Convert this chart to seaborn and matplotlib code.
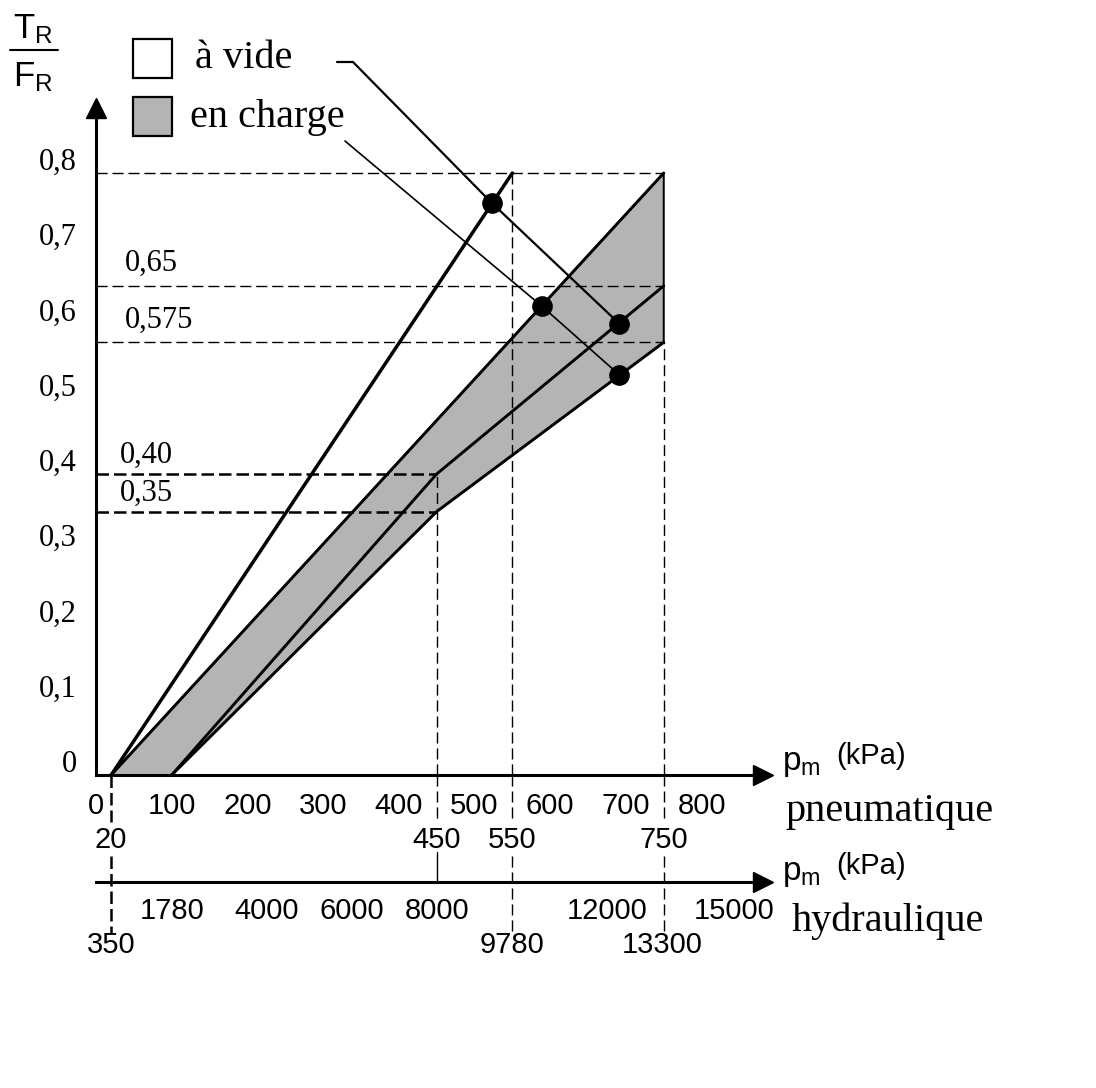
import matplotlib
matplotlib.use('Agg')
import matplotlib.pyplot as plt
import matplotlib.transforms as mtransforms
from matplotlib.patches import Rectangle
from matplotlib.lines import Line2D
import seaborn as sns

sns.set_style('white')
plt.rcParams['font.family'] = ['Liberation Sans', 'DejaVu Sans']
plt.rcParams['text.color'] = 'black'
SERIF = ['Liberation Serif', 'DejaVu Serif']

p_vide = [20, 550]              # droite "a vide"
tr_vide = [0.0, 0.8]
p_haut = [20, 750]              # limite haute de la zone "en charge"
tr_haut = [0.0, 0.8]
p_milieu = [100, 450, 750]      # droite mediane
tr_milieu = [0.0, 0.40, 0.65]
p_bas = [100, 450, 750]         # limite basse
tr_bas = [0.0, 0.35, 0.575]

p_points = [523, 589, 691, 691]
tr_points = [0.76, 0.623, 0.60, 0.532]

ref_tr_hautes = [0.8, 0.65, 0.575]     # pointilles jusqu'a 750 kPa
ref_tr_basses = [0.40, 0.35]           # pointilles jusqu'a 450 kPa
ref_labels = {0.65: '0,65', 0.575: '0,575', 0.40: '0,40', 0.35: '0,35'}
ref_p = [450, 550, 750]
ref_p_top = [0.40, 0.8, 0.575]

y_ticks = [0, 0.1, 0.2, 0.3, 0.4, 0.5, 0.6, 0.7, 0.8]
y_labels = ['0', '0,1', '0,2', '0,3', '0,4', '0,5', '0,6', '0,7', '0,8']
p_ticks = [0, 100, 200, 300, 400, 500, 600, 700, 800]
p_marques = [20, 450, 550, 750]
h_ticks = [1780, 4000, 6000, 8000, 12000, 15000]
h_marques = [350, 9780, 13300]
H_PAR_P = 9780 / 550   # echelle hydraulique / pneumatique

# --- mise en page (pixels) ---
W, H = 1096, 1088
X0, Y0 = 96, 775
X_END, Y_END = 763, 108
PX_KPA, PX_UNIT = 0.757, 752.5


def fx(px):
    return px / W


def fy(py):
    return 1 - py / H


def px2data(px, py):
    return (px - X0) / PX_KPA, (Y0 - py) / PX_UNIT


fig = plt.figure(figsize=(W / 100, H / 100), dpi=100)
ax = fig.add_axes([fx(X0), fy(Y0), (X_END - X0) / W, (Y0 - Y_END) / H])
ax.set_xlim(0, (X_END - X0) / PX_KPA)
ax.set_ylim(0, (Y0 - Y_END) / PX_UNIT)
ax.patch.set_alpha(0)

# zone en charge
ax.fill(p_haut + p_bas[::-1], tr_haut + tr_bas[::-1], facecolor='#b4b4b4',
        edgecolor='black', lw=1.4, zorder=1)

# pointilles de lecture
dash_fin = dict(color='black', lw=1.0, dashes=(8, 3.5), zorder=2)
dash_gras = dict(color='black', lw=1.8, dashes=(5, 2), zorder=2)
for r in ref_tr_hautes:
    ax.plot([0, p_haut[-1]], [r, r], **dash_fin)
for r in ref_tr_basses:
    ax.plot([0, p_bas[1]], [r, r], **dash_gras)
for p, top in zip(ref_p, ref_p_top):
    ax.plot([p, p], [0, top], **dash_fin)

# droites
sns.lineplot(x=p_vide, y=tr_vide, color='black', lw=2.5, ax=ax, zorder=3)
sns.lineplot(x=p_haut, y=tr_haut, color='black', lw=2.1, ax=ax, zorder=3)
sns.lineplot(x=p_milieu, y=tr_milieu, color='black', lw=2.1, ax=ax, zorder=3)
sns.lineplot(x=p_bas, y=tr_bas, color='black', lw=2.1, ax=ax, zorder=3)

# lignes de rappel de la legende
a0 = px2data(337, 62)
a1 = px2data(353, 62)
sns.lineplot(x=[a0[0], a1[0], p_points[0], p_points[2]],
             y=[a0[1], a1[1], tr_points[0], tr_points[2]],
             sort=False, color='black', lw=1.6, ax=ax, zorder=3)
ax.lines[-1].set_clip_on(False)
b0 = px2data(345, 141)
sns.lineplot(x=[b0[0], p_points[1], p_points[3]],
             y=[b0[1], tr_points[1], tr_points[3]],
             sort=False, color='black', lw=1.2, ax=ax, zorder=3)
ax.lines[-1].set_clip_on(False)

sns.scatterplot(x=p_points, y=tr_points, color='black', s=190, ax=ax,
                zorder=4, edgecolor='black')

# libelles des pointilles
for r, lbl in ref_labels.items():
    x_lbl = px2data(125 if r > 0.5 else 120, 0)[0]
    off = 16 if r > 0.5 else 13.5
    ax.annotate(lbl, (x_lbl, r), xytext=(0, off), textcoords='offset points',
                ha='left', va='center', fontsize=22, family=SERIF)

# axes
for s in ['top', 'right']:
    ax.spines[s].set_visible(False)
for s in ['left', 'bottom']:
    ax.spines[s].set_linewidth(2.2)
    ax.spines[s].set_color('black')
ax.plot([1], [0], marker='>', ms=15, color='black', transform=ax.transAxes, clip_on=False)
ax.plot([0], [1], marker='^', ms=15, color='black', transform=ax.transAxes, clip_on=False)

ax.set_xticks(p_ticks, labels=[str(v) for v in p_ticks], fontsize=21)
ax.tick_params(axis='x', direction='in', length=7.5, width=1.5, pad=12, colors='black')
ax.set_yticks(y_ticks, labels=y_labels, fontsize=22, family=SERIF)
ax.tick_params(axis='y', direction='in', length=9.5, width=1.5, pad=14, colors='black')
shift = mtransforms.ScaledTranslation(0, 14 / 100, fig.dpi_scale_trans)
for lab in ax.get_yticklabels():
    lab.set_transform(lab.get_transform() + shift)

trans_p = mtransforms.blended_transform_factory(ax.transData, fig.transFigure)
for p in p_marques:
    sty = dash_gras if p == p_marques[0] else dash_fin
    ax.plot([p, p], [fy(Y0), fy(822)], transform=trans_p, clip_on=False, **sty)
    ax.text(p, fy(840), str(p), transform=trans_p, ha='center', va='center', fontsize=21)
    if p == 450:
        ax.plot([p, p], [fy(852), fy(882)], transform=trans_p, clip_on=False,
                color='black', lw=1.0)
    else:
        ax.plot([p, p], [fy(856), fy(934)], transform=trans_p, clip_on=False, **sty)

# axe hydraulique
ax_h = fig.add_axes([fx(X0), fy(882), (X_END - X0) / W, 1e-4])
ax_h.set_xlim(0, ax.get_xlim()[1] * H_PAR_P)
ax_h.set_ylim(0, 1)
ax_h.patch.set_alpha(0)
for s in ['top', 'right', 'left']:
    ax_h.spines[s].set_visible(False)
ax_h.spines['bottom'].set_linewidth(2.2)
ax_h.spines['bottom'].set_color('black')
ax_h.set_yticks([])
ax_h.set_xticks(h_ticks, labels=[str(v) for v in h_ticks], fontsize=21)
ax_h.tick_params(axis='x', direction='in', length=9, width=1.5, pad=11, colors='black')
ax_h.plot([1], [0], marker='>', ms=15, color='black', transform=ax_h.transAxes, clip_on=False)
trans_h = mtransforms.blended_transform_factory(ax_h.transData, fig.transFigure)
for h in h_marques:
    ax_h.text(h, fy(945), str(h), transform=trans_h, ha='center', va='center', fontsize=21)

# titres d'axes
fig.text(fx(33), fy(29), r'$\mathregular{T_R}$', ha='center', va='center', fontsize=25)
fig.add_artist(Line2D([fx(10), fx(58)], [fy(50), fy(50)], lw=1.5, color='black'))
fig.text(fx(33), fy(77), r'$\mathregular{F_R}$', ha='center', va='center', fontsize=25)

for dy, nom in [(0, 'pneumatique'), (110, 'hydraulique')]:
    fig.text(fx(782), fy(770 + dy), r'$\mathregular{p_m}$', ha='left', va='baseline', fontsize=24)
    fig.text(fx(836), fy(756 + dy), '(kPa)', ha='left', va='center', fontsize=21)
    fig.text(fx(785 if dy == 0 else 792), fy(811 + dy), nom, ha='left', va='center',
             fontsize=29, family=SERIF)

# legende
fig.add_artist(Rectangle((fx(133), fy(78)), 39 / W, 39 / H, transform=fig.transFigure,
                         facecolor='white', edgecolor='black', lw=1.6))
fig.add_artist(Rectangle((fx(133), fy(136)), 39 / W, 39 / H, transform=fig.transFigure,
                         facecolor='#b4b4b4', edgecolor='black', lw=1.6))
fig.text(fx(195), fy(59), 'à vide', ha='left', va='center', fontsize=29, family=SERIF)
fig.text(fx(190), fy(117), 'en charge', ha='left', va='center', fontsize=29, family=SERIF)

fig.savefig('out.png', dpi=100)
